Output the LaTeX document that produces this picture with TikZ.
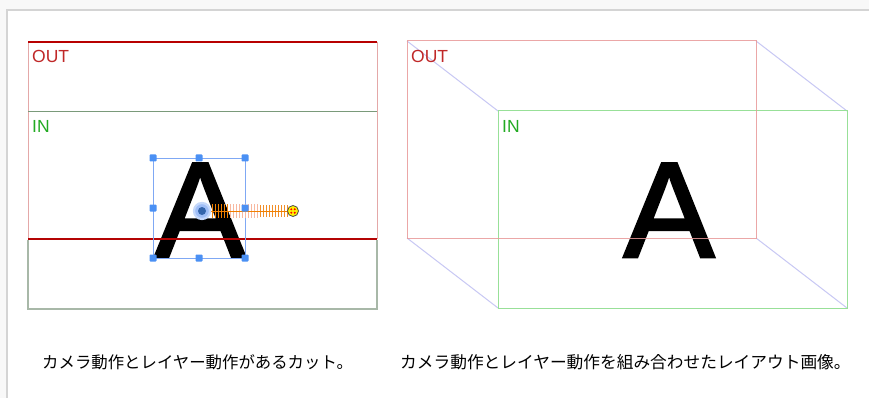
\documentclass[tikz,border=0pt]{standalone}
\usepackage{fontspec}
\setmainfont{Liberation Sans}
\newfontfamily\cjk{Noto Sans CJK JP}
\newfontfamily\afont[FakeBold=2]{Liberation Sans}
\definecolor{bgray}{HTML}{F8F8F8}
\definecolor{fgray}{HTML}{D4D4D4}
\definecolor{darkred}{HTML}{B80000}
\definecolor{darkredb}{HTML}{B40404}
\definecolor{pinkline}{HTML}{E4A8A8}
\definecolor{greenline}{HTML}{7A9A7A}
\definecolor{graygreen}{HTML}{A8B8A8}
\definecolor{lblred}{HTML}{C02828}
\definecolor{lblgreen}{HTML}{22AA22}
\definecolor{lred}{HTML}{E89898}
\definecolor{lgreen}{HTML}{98E098}
\definecolor{lav}{HTML}{C8C8F4}
\definecolor{selblue}{HTML}{7FA8F4}
\definecolor{handle}{HTML}{4A90F4}
\definecolor{dorange}{HTML}{F08000}
\definecolor{lorange}{HTML}{F8B8A0}
\tikzset{
  lbl/.style={inner sep=0pt, anchor=base west, font=\fontsize{17.5}{17.5}\selectfont},
  bigA/.style={inner sep=0pt, anchor=base, text=black, font=\afont\fontsize{136}{136}\selectfont},
  caption/.style={inner sep=0pt, anchor=west, font=\cjk\fontsize{16.4}{16.4}\selectfont},
  hnd/.style={fill=handle, draw=none, minimum size=7pt, inner sep=0pt, rounded corners=0.8pt}
}
\begin{document}
\begin{tikzpicture}[x=1pt,y=-1pt]
\useasboundingbox (0,0) rectangle (869,398);
\fill[bgray] (0,0) rectangle (869,398);
\fill[white] (7,10) rectangle (871,400);
\draw[fgray, line width=1.5pt] (7,400) -- (7,10) -- (871,10);

% ===== big letters =====
\node[bigA] (leftA) at (200,257) {A};
\node[bigA] (rightA) at (669,257) {A};

% ===== Left panel =====
% verticals
\draw[pinkline, line width=1pt] (28,42) -- (28,239);
\draw[pinkline, line width=1pt] (377,42) -- (377,239);
\draw[graygreen, line width=1.2pt] (28,239.6) -- (28,309) -- (377,309) -- (377,239.6);
% horizontals
\draw[darkred, line width=1.2pt] (28,42) -- (377,42);
\draw[greenline, line width=1pt] (28,112) -- (377,112);
\draw[darkredb, line width=1.1pt] (28,239) -- (377,239);
\node[lbl, text=lblred] (outL) at (32,63) {OUT};
\node[lbl, text=lblgreen] (inL) at (32,133) {IN};

% selection box
\draw[selblue, line width=0.9pt] (153,158) rectangle (245,258);
\node[hnd] (h1) at (153,158) {};
\node[hnd] (h2) at (199,158) {};
\node[hnd] (h3) at (245,158) {};
\node[hnd] (h4) at (153,208) {};
\node[hnd] (h6) at (153,258) {};
\node[hnd] (h7) at (199,258) {};
\node[hnd] (h8) at (245,258) {};

% motion path with ticks
\foreach \x in {230,233,...,257} \draw[lorange, line width=0.9pt] (\x,204) -- (\x,218);
\foreach \x in {212,215,...,228} \draw[dorange, line width=0.9pt] (\x,204) -- (\x,218);
\foreach \x in {260,263,...,287} \draw[dorange!75!lorange, line width=0.9pt] (\x,205) -- (\x,217);
\coordinate (pathstart) at (209,211);
\node[circle, fill=yellow, draw=black!70, line width=0.8pt, minimum size=11pt, inner sep=0pt] (endpt) at (293,211) {};
\draw[dorange, line width=1pt] (pathstart) -- (endpt.west);
\fill[red] (291.3,209.3) circle (1.1pt) (294.7,209.3) circle (1.1pt) (291.3,212.7) circle (1.1pt) (294.7,212.7) circle (1.1pt);
\node[hnd] (h5) at (245,208) {};
\node[circle, fill=selblue!75, draw=selblue!45, line width=2.2pt, minimum size=16pt, inner sep=0pt] (center) at (202,211) {};
\fill[handle!70!black] (center) circle (4pt);

% ===== Right panel =====
\coordinate (o1) at (407,41);
\coordinate (o2) at (756,41);
\coordinate (o3) at (756,238);
\coordinate (o4) at (407,238);
\coordinate (i1) at (498,111);
\coordinate (i2) at (847,111);
\coordinate (i3) at (847,308);
\coordinate (i4) at (498,308);
\draw[lav, line width=1pt] (o1) -- (i1) (o2) -- (i2) (o3) -- (i3) (o4) -- (i4);
\draw[lgreen, line width=1pt] (i1) -- (i2) -- (i3) -- (i4) -- cycle;
\draw[lred, line width=1pt, opacity=0.85] (o1) -- (o2) -- (o3) -- (o4) -- cycle;
\node[lbl, text=lblred] (outR) at (411,63) {OUT};
\node[lbl, text=lblgreen] (inR) at (502,133) {IN};

% captions
\node[caption] (capL) at (42,362) {カメラ動作とレイヤー動作があるカット。};
\node[caption, font=\cjk\fontsize{16.7}{16.7}\selectfont] (capR) at (400,362) {カメラ動作とレイヤー動作を組み合わせたレイアウト画像。};
\end{tikzpicture}
\end{document}
